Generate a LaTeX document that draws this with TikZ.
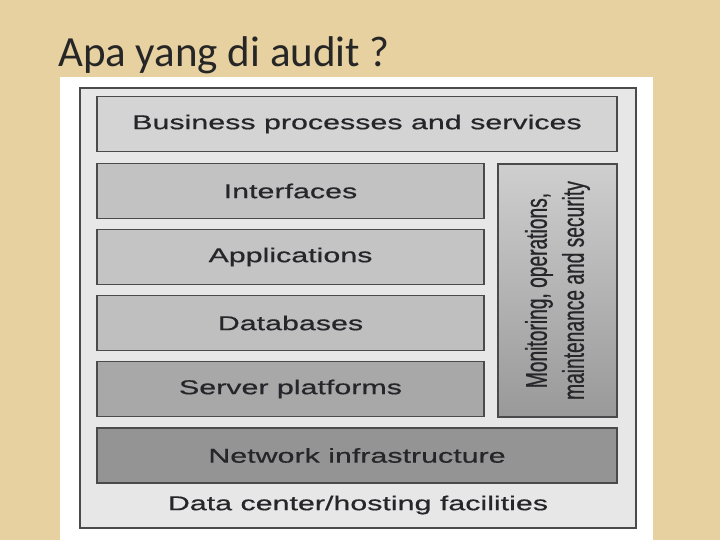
\documentclass[tikz,border=0pt]{standalone}
\usepackage{fontspec}
\setmainfont{Liberation Sans}
\newfontfamily\titlefont{Carlito}
\newfontfamily\layerfont[FakeStretch=1.52, FakeBold=0.6]{Liberation Sans}
\newfontfamily\sidefont[FakeStretch=0.64, FakeBold=0.6]{Liberation Sans}
\usetikzlibrary{positioning}
\definecolor{slide}{HTML}{E8D1A0}
\definecolor{edge}{HTML}{4A4A4D}
\definecolor{ink}{HTML}{26262A}
\definecolor{framefill}{HTML}{E7E7E7}

\begin{document}
\begin{tikzpicture}[x=1pt, y=-1pt, on grid, node distance=66pt,
  layer/.style={draw=edge, line width=1.2pt, minimum height=55pt, inner sep=0pt, text=ink, font=\layerfont\fontsize{20}{24}\selectfont},
  wide/.style={layer, minimum width=520pt},
  narrow/.style={layer, minimum width=387pt}]
	\useasboundingbox (0,0) rectangle (720,540);
	\fill[slide] (0,0) rectangle (720,540);
	\node[anchor=base west, inner sep=0pt, text=black!85, font=\titlefont\fontsize{43}{50}\selectfont] (title) at (58,67) {Apa yang di audit ?};
	\fill[white] (60,77) rectangle (653,540);
	\node[draw=edge, line width=1.2pt, fill=framefill, minimum width=556pt, minimum height=440pt] (frame) at (358,308) {};
	\node[wide, fill=black!17] (biz) at (357,124) {Business processes and services};
	\node[narrow, fill=black!24] (intf) at (290.5,191) {Interfaces};
	\node[narrow, fill=black!23] (apps) [below=of intf] {Applications};
	\node[narrow, fill=black!25] (dbs) [below=of apps] {Databases};
	\node[narrow, fill=black!34] (srv) [below=of dbs] {Server platforms};
	\node[wide, fill=black!42] (net) at (357,455.5) {Network infrastructure};
	\node[draw=edge, line width=1.2pt, minimum width=119pt, minimum height=253pt, top color=black!19, bottom color=black!40] (mon) at (557.5,290.5) {};
	\node[rotate=90, align=center, text=ink, font=\sidefont\fontsize{30}{37}\selectfont] (montext) at (mon) {Monitoring, operations,\\maintenance and security};
	\node[text=ink, font=\layerfont\fontsize{20}{24}\selectfont] (dc) at (358,505) {Data center/hosting facilities};
\end{tikzpicture}
\end{document}
